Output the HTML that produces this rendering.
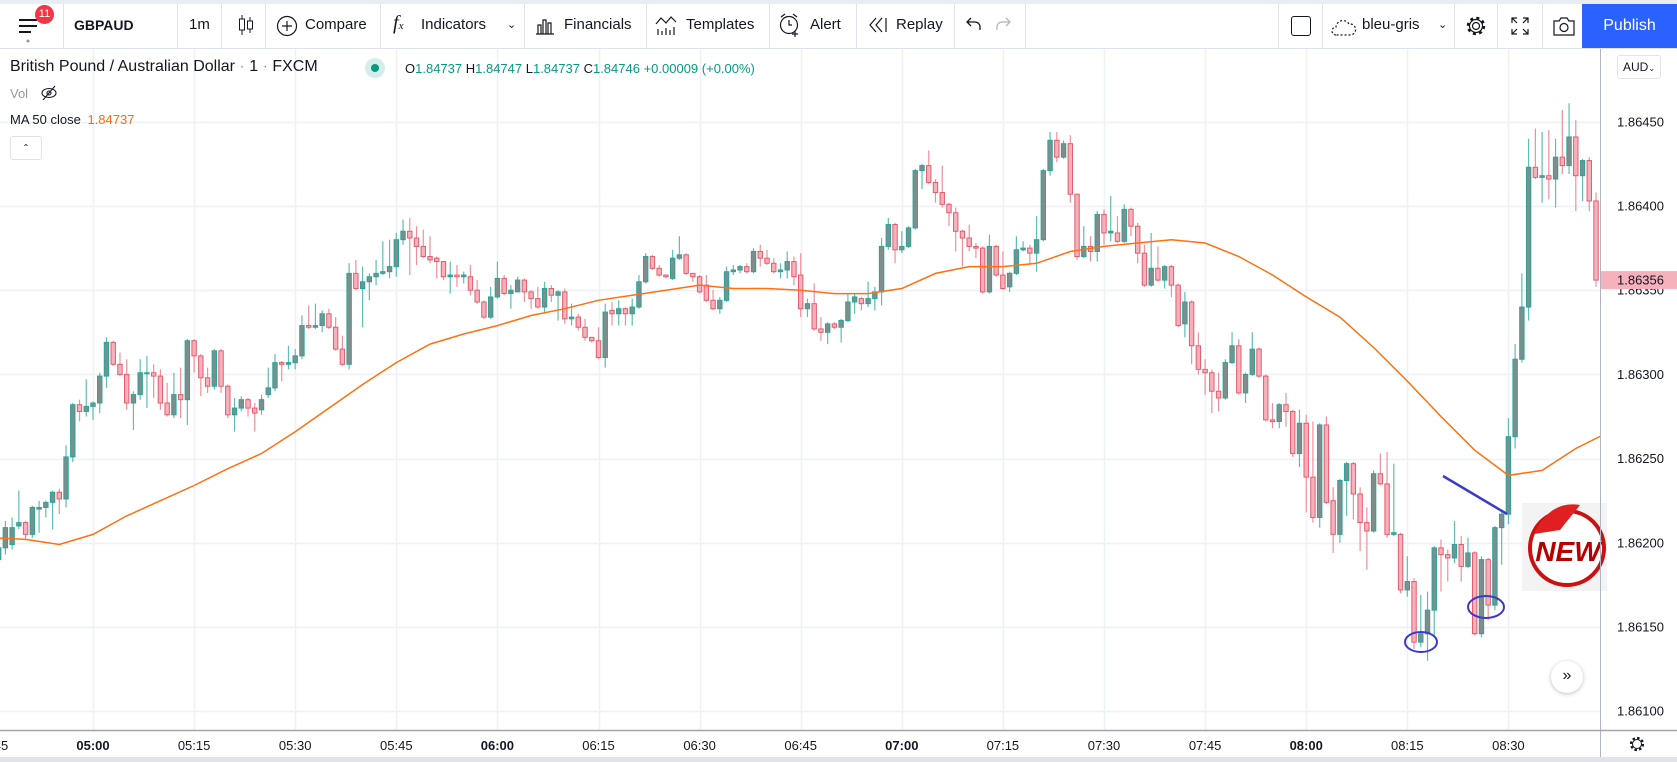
<!DOCTYPE html>
<html><head><meta charset="utf-8">
<style>
html,body{margin:0;padding:0;width:1677px;height:762px;overflow:hidden;background:#fff;font-family:"Liberation Sans",sans-serif;color:#131722}
.abs{position:absolute}
.tb{position:absolute;top:4px;left:0;width:1677px;height:44px;background:#fff;border-bottom:1px solid #e0e3eb}
.sep{position:absolute;top:4px;width:1px;height:44px;background:#e0e3eb}
.tt{position:absolute;top:16px;font-size:15px;line-height:18px;color:#131722;white-space:nowrap}
</style></head><body>
<div class="abs" style="left:0;top:0;width:1677px;height:4px;background:#e9ecf2"></div>
<div class="tb"></div>
<svg class="abs" style="left:19px;top:17px" width="22" height="28"><rect x="0" y="2" width="18" height="2" fill="#131722"/><rect x="0" y="8" width="18" height="2" fill="#131722"/><rect x="0" y="14" width="12" height="2" fill="#131722"/><circle cx="9" cy="24" r="1.5" fill="#9598a1"/></svg>
<div class="abs" style="left:35px;top:5px;width:19px;height:19px;border-radius:50%;background:#f23645;color:#fff;font-size:11px;line-height:19px;text-align:center">11</div>
<div class="sep" style="left:63px"></div>
<div class="tt" style="left:74px;font-weight:bold;font-size:14px">GBPAUD</div>
<div class="sep" style="left:177px"></div>
<div class="tt" style="left:189px">1m</div>
<div class="sep" style="left:221px"></div>
<svg class="abs" style="left:238px;top:14px" width="16" height="22"><line x1="4" y1="1" x2="4" y2="21" stroke="#131722"/><rect x="1.5" y="5" width="5" height="11" fill="#fff" stroke="#131722"/><line x1="12" y1="3" x2="12" y2="19" stroke="#131722"/><rect x="9.5" y="7" width="5" height="8" fill="#fff" stroke="#131722"/></svg>
<div class="sep" style="left:265px"></div>
<svg class="abs" style="left:276px;top:15px" width="22" height="22"><circle cx="11" cy="11" r="9.5" fill="none" stroke="#131722" stroke-width="1.2"/><path d="M11 6v10M6 11h10" stroke="#131722" stroke-width="1.2"/></svg>
<div class="tt" style="left:305px">Compare</div>
<div class="sep" style="left:380px"></div>
<div class="abs" style="left:393px;top:12px;font-family:'Liberation Serif',serif;font-style:italic;font-size:20px">f<span style="font-size:11px">x</span></div>
<div class="tt" style="left:421px">Indicators</div>
<div class="tt" style="left:507px;font-size:11px">&#8964;</div>
<div class="sep" style="left:524px"></div>
<svg class="abs" style="left:535px;top:15px" width="20" height="20"><path d="M1 19h18M3 19V10h3v9M8 19V5h3v14M13 19V8h3v11" fill="none" stroke="#131722" stroke-width="1.2"/></svg>
<div class="tt" style="left:564px">Financials</div>
<div class="sep" style="left:646px"></div>
<svg class="abs" style="left:655px;top:14px" width="22" height="22"><path d="M1 10l5-6 5 5 5-6 5 5" fill="none" stroke="#131722" stroke-width="1.2"/><path d="M3 21v-6M7 21v-4M11 21v-7M15 21v-5M19 21v-8" stroke="#131722" stroke-width="1.2"/></svg>
<div class="tt" style="left:686px">Templates</div>
<div class="sep" style="left:769px"></div>
<svg class="abs" style="left:778px;top:12px" width="24" height="26"><circle cx="11" cy="13" r="8.5" fill="none" stroke="#131722" stroke-width="1.2"/><path d="M11 8v5h3M3 5l4-3M19 5l-4-3M17 19v6M14 22h6" fill="none" stroke="#131722" stroke-width="1.2"/></svg>
<div class="tt" style="left:810px">Alert</div>
<div class="sep" style="left:856px"></div>
<svg class="abs" style="left:868px;top:17px" width="20" height="16"><path d="M8 1L2 8l6 7M14 1L8 8l6 7M18 1v14" fill="none" stroke="#131722" stroke-width="1.2"/></svg>
<div class="tt" style="left:896px">Replay</div>
<div class="sep" style="left:954px"></div>
<svg class="abs" style="left:966px;top:17px" width="16" height="14"><path d="M5 1L1 5l4 4M1 5h8a5 5 0 0 1 5 5v3" fill="none" stroke="#131722" stroke-width="1.3"/></svg>
<svg class="abs" style="left:995px;top:17px" width="16" height="14"><path d="M11 1l4 4-4 4M15 5H7a5 5 0 0 0-5 5v3" fill="none" stroke="#b2b5be" stroke-width="1.3"/></svg>
<div class="sep" style="left:1025px"></div>
<div class="sep" style="left:1278px"></div>
<div class="abs" style="left:1291px;top:16px;width:18px;height:18px;border:1.5px solid #131722;border-radius:3px"></div>
<div class="sep" style="left:1322px"></div>
<svg class="abs" style="left:1331px;top:15px" width="26" height="22"><path d="M5 20a4 4 0 0 1 0-8 7 7 0 0 1 13-3 5 5 0 0 1 2 11z" fill="none" stroke="#131722" stroke-width="1.2" stroke-dasharray="2 2"/></svg>
<div class="tt" style="left:1362px">bleu-gris</div>
<div class="tt" style="left:1438px;font-size:11px">&#8964;</div>
<div class="sep" style="left:1454px"></div>
<svg class="abs" style="left:1465px;top:15px" width="22" height="22"><circle cx="11" cy="11" r="3.5" fill="none" stroke="#131722" stroke-width="1.2"/><circle cx="11" cy="11" r="8" fill="none" stroke="#131722" stroke-width="2.5" stroke-dasharray="3 3.3"/><circle cx="11" cy="11" r="6.5" fill="none" stroke="#131722" stroke-width="1.2"/></svg>
<div class="sep" style="left:1497px"></div>
<svg class="abs" style="left:1511px;top:17px" width="18" height="18"><path d="M1 6V1h5M12 1h5v5M17 12v5h-5M6 17H1v-5M1 1l5 5M17 1l-5 5M17 17l-5-5M1 17l5-5" fill="none" stroke="#131722" stroke-width="1.2"/></svg>
<div class="sep" style="left:1542px"></div>
<svg class="abs" style="left:1552px;top:15px" width="24" height="22"><path d="M2 6h5l2-3h6l2 3h5v14H2z" fill="none" stroke="#131722" stroke-width="1.2"/><circle cx="12" cy="12.5" r="4" fill="none" stroke="#131722" stroke-width="1.2"/></svg>
<div class="abs" style="left:1582px;top:4px;width:95px;height:44px;background:#2962ff;color:#fff;font-size:16px;line-height:44px;text-align:center">Publish</div>

<svg id="chart" class="abs" style="left:0;top:0" width="1677" height="762"></svg>

<div class="abs" style="left:10px;top:58px;font-size:16px;white-space:nowrap">British Pound / Australian Dollar <span style="color:#9598a1">·</span> 1 <span style="color:#9598a1">·</span> FXCM</div>
<div class="abs" style="left:365px;top:58px;width:20px;height:20px;border-radius:50%;background:#d5eeea"><div style="margin:6px;width:8px;height:8px;border-radius:50%;background:#089981"></div></div>
<div class="abs" style="left:405px;top:61px;font-size:13px;white-space:nowrap;color:#089981"><span style="color:#131722">O</span>1.84737 <span style="color:#131722">H</span>1.84747 <span style="color:#131722">L</span>1.84737 <span style="color:#131722">C</span>1.84746 +0.00009 (+0.00%)</div>
<div class="abs" style="left:10px;top:86px;font-size:13px;color:#9598a1">Vol</div>
<svg class="abs" style="left:40px;top:84px" width="18" height="18"><ellipse cx="9" cy="9" rx="7" ry="4.5" fill="none" stroke="#131722" stroke-width="1.1"/><circle cx="9" cy="9" r="2" fill="none" stroke="#131722" stroke-width="1.1"/><path d="M3 16L15 2" stroke="#131722" stroke-width="1.1"/></svg>
<div class="abs" style="left:10px;top:112px;font-size:13px;white-space:nowrap;color:#131722">MA 50 close <span style="color:#ff6d00;margin-left:3px">1.84737</span></div>
<div class="abs" style="left:10px;top:136px;width:30px;height:22px;border:1px solid #e0e3eb;border-radius:3px;font-size:12px;line-height:24px;text-align:center">&#710;</div>
<div class="abs" style="left:1617px;top:55px;width:42px;height:22px;border:1px solid #e0e3eb;border-radius:3px;font-size:12px;line-height:22px;text-align:center">AUD<span style="font-size:8px">&#8964;</span></div>
<div class="abs" style="left:1551px;top:661px;width:32px;height:32px;border-radius:50%;background:#fff;box-shadow:0 1px 4px rgba(0,0,0,0.25);font-size:16px;line-height:30px;text-align:center;color:#131722">&#187;</div>

<script>
// Candles: prices = 1.86 + pts/100000, one per minute starting 04:46
const startMinute = 286;
const openPts = [190,197,199,210,212,205,220,221,224,230,226,251,282,278,281,283,299,319,306,300,283,288,301,301,299,283,276,288,285,320,311,298,293,314,293,276,280,285,280,279,288,292,307,306,307,311,329,328,329,336,328,315,306,360,351,355,358,360,361,364,380,385,381,376,370,369,367,358,359,358,358,350,343,334,346,357,348,349,356,349,345,340,351,347,349,333,334,328,322,320,310,338,336,339,336,340,355,370,363,359,357,369,371,360,358,353,344,339,344,361,362,364,361,373,369,366,361,362,367,359,339,342,327,325,330,328,332,343,345,342,345,349,376,389,374,376,387,421,424,414,408,401,396,385,381,376,375,349,376,359,352,360,374,375,372,380,421,439,429,437,407,370,376,373,395,384,384,379,398,388,372,353,363,356,364,353,330,343,317,303,301,290,286,307,317,289,300,315,299,273,272,282,278,253,271,239,215,270,225,205,237,247,229,212,207,241,235,205,205,172,177,141,146,160,197,193,191,199,186,194,146,190,163,209,217,263,309,340,423,417,418,416,429,424,441,418,427,403];
const highPts = [199,213,215,231,213,222,225,225,231,232,258,283,285,297,284,301,322,320,313,309,290,309,311,306,303,295,301,304,321,321,312,304,315,315,294,286,287,286,283,288,304,312,308,317,315,335,341,342,338,339,334,323,366,368,364,360,368,379,380,384,392,393,388,386,382,370,367,367,365,361,365,356,344,352,367,359,353,358,357,350,352,355,353,350,351,342,336,333,322,328,342,343,344,340,345,359,372,371,365,359,374,382,372,360,359,359,350,346,364,365,365,366,375,377,374,369,366,373,370,372,345,354,334,331,331,333,348,348,346,355,352,381,393,390,385,388,422,425,433,416,424,402,399,386,389,378,376,383,377,373,361,382,379,377,394,422,444,444,439,442,407,388,382,397,398,406,394,401,399,390,377,384,376,365,365,354,349,344,325,309,303,301,309,325,321,301,325,316,300,283,283,289,279,279,276,272,271,275,233,238,248,248,233,221,243,253,254,247,206,192,179,169,171,198,202,196,213,204,203,195,192,191,210,218,274,318,360,440,446,444,445,440,457,461,451,428,429,408];
const lowPts = [181,193,196,208,202,203,206,215,208,217,221,248,272,275,273,277,292,305,299,279,267,285,280,286,279,275,274,274,270,301,287,289,291,289,274,266,278,275,266,276,286,290,296,303,303,309,327,327,325,327,314,305,303,350,328,344,353,359,357,358,377,359,365,369,366,357,356,348,352,354,347,342,333,333,345,347,339,349,343,339,339,336,343,332,330,329,326,320,319,309,304,329,329,329,329,339,354,362,358,357,356,368,359,355,348,343,338,336,343,359,360,360,360,364,365,360,357,357,353,334,334,326,320,318,327,319,331,336,338,340,338,341,374,366,372,375,386,410,413,402,399,388,373,364,373,369,348,348,358,350,349,359,373,365,361,379,418,426,428,402,368,369,367,367,377,379,378,378,382,366,352,352,355,351,346,328,322,306,300,288,277,278,285,306,288,283,299,298,272,268,268,269,251,245,218,212,209,223,194,200,216,214,195,184,206,234,203,204,170,168,137,138,130,145,171,177,188,177,185,145,144,154,160,187,211,256,307,332,416,402,404,399,419,419,397,403,397,352];
const closePts = [197,209,209,212,205,221,221,224,230,226,251,282,278,281,283,299,319,306,300,283,288,301,301,299,283,276,288,285,320,311,298,293,314,293,276,280,285,280,277,285,292,307,306,307,311,329,328,329,336,328,315,306,360,351,355,358,360,361,364,380,385,381,376,370,368,367,358,359,358,359,350,343,334,346,357,348,350,356,349,345,340,351,347,349,333,334,328,322,320,310,337,336,339,336,340,355,370,363,359,358,369,371,360,358,349,344,339,344,361,362,364,361,373,369,366,361,362,367,358,339,342,327,325,330,328,332,343,346,342,345,349,376,389,374,376,387,421,424,414,408,401,396,385,381,376,375,349,376,359,351,360,374,375,372,380,421,439,429,437,407,370,376,373,395,384,385,379,398,388,372,353,363,356,364,353,329,343,317,303,301,290,286,307,317,289,300,315,299,273,272,282,278,253,271,239,215,270,224,205,237,247,229,212,207,241,235,205,206,172,177,141,146,160,197,193,191,199,186,194,146,190,163,209,217,263,309,340,423,417,418,416,429,424,441,418,427,403,356];
// MA 50 (close) values read every 5 minutes starting at minute maStart
const maStart = 285;
const maPts = [203,202,199,205,216,225,234,244,253,266,280,294,307,318,324,329,335,339,344,347,350,353,351,351,350,348,348,351,360,364,364,366,373,376,378,380,378,370,359,346,334,316,296,275,255,240,243,256,266];
const priceTicks = [1.8645,1.864,1.8635,1.863,1.8625,1.862,1.8615,1.861];
const timeTicks = ["04:45","05:00","05:15","05:30","05:45","06:00","06:15","06:30","06:45","07:00","07:15","07:30","07:45","08:00","08:15","08:30"];
const timeTickMinutes = [285,300,315,330,345,360,375,390,405,420,435,450,465,480,495,510];
const lastPrice = 1.86356;

const NS = "http://www.w3.org/2000/svg";
const svg = document.getElementById('chart');
const PLOT_R = 1600, PLOT_T = 49, PLOT_B = 730;
function xOf(min){ return 93 + (min - 300) * 6.74; }
function yOf(price){ return 206 - (price - 1.864) / 0.0005 * 84.2; }
function pts2p(v){ return 1.86 + v / 100000; }
function mk(tag, attrs, parent){ const e = document.createElementNS(NS, tag); for (const k in attrs) e.setAttribute(k, attrs[k]); (parent||svg).appendChild(e); return e; }

const defs = mk('defs', {});
const clip = mk('clipPath', {id:'plotclip'}, defs);
mk('rect', {x:0, y:PLOT_T, width:PLOT_R, height:PLOT_B-PLOT_T}, clip);

const grid = mk('g', {});


timeTickMinutes.forEach(m => {
  const x = Math.round(xOf(m)) + 0.5;
  const l = mk('line', {x1:x, x2:x, y1:PLOT_T, y2:PLOT_B, stroke:'#eef1f6', 'stroke-width':1.5}, grid);
  
  
});
priceTicks.forEach(p => {
  const y = Math.round(yOf(p)) + 0.5;
  const l = mk('line', {x1:0, x2:PLOT_R, y1:y, y2:y, stroke:'#eef1f6', 'stroke-width':1.5}, grid);
  
  
});

const cg = mk('g', {'clip-path':'url(#plotclip)'});


for (let k = 0; k < openPts.length; k++) {
  const o = pts2p(openPts[k]), h = pts2p(highPts[k]), l = pts2p(lowPts[k]), c = pts2p(closePts[k]);
  const up = c >= o;
  const x = xOf(startMinute + k);
  const g = mk('g', {}, cg);
  
  
  mk('line', {x1:x, x2:x, y1:yOf(h), y2:yOf(l), stroke: up ? '#5fbdb1' : '#ee9099', 'stroke-width':1.2}, g);
  const top = yOf(Math.max(o, c)), bot = yOf(Math.min(o, c));
  mk('rect', {x:x-2.2, y:top, width:4.4, height:Math.max(1, bot-top), fill: up ? '#7f8e8c' : '#f7b1bd', stroke: up ? '#26a69a' : '#e35d6a', 'stroke-width':1}, g);
}

let d = '';
maPts.forEach((v, k) => { d += (k ? 'L' : 'M') + xOf(maStart + k*5).toFixed(1) + ' ' + yOf(pts2p(v)).toFixed(1); });
const ma = mk('path', {d:d, fill:'none', stroke:'#ff7010', 'stroke-width':1.5, 'clip-path':'url(#plotclip)'});



// annotations
const tl = mk('line', {x1:1443, y1:476, x2:1507, y2:514, stroke:'#3a3acc', 'stroke-width':2.5});


const e1 = mk('ellipse', {cx:1421, cy:642, rx:16, ry:10, fill:'none', stroke:'#3a3acc', 'stroke-width':2});


const e2 = mk('ellipse', {cx:1486, cy:607, rx:18, ry:11, fill:'none', stroke:'#3a3acc', 'stroke-width':2});



const badge = mk('g', {});


mk('rect', {x:1522, y:503, width:85, height:88, fill:'#f3f3f3'}, badge);
mk('circle', {cx:1567, cy:548, r:37, fill:'#fff', stroke:'#cc1111', 'stroke-width':4}, badge);
mk('path', {d:'M1534 534 Q1550 500 1580 505 L1560 530 Z', fill:'#e02020'}, badge);
const nt = mk('text', {x:1568, y:561, 'font-size':28, 'font-weight':'bold', 'font-style':'italic', fill:'#b80000', 'text-anchor':'middle', 'font-family':'Liberation Sans, sans-serif'}, badge);
nt.textContent = 'NEW';

// price axis
const ax = mk('line', {x1:1600.5, x2:1600.5, y1:PLOT_T, y2:762, stroke:'#b2b5be', 'stroke-width':1});


priceTicks.forEach(p => {
  const t = mk('text', {x:1617, y:yOf(p)+4.5, 'font-size':13, fill:'#131722', 'font-family':'Liberation Sans, sans-serif'});
  
  
  t.textContent = p.toFixed(5);
});
const ly = yOf(lastPrice);
const lb = mk('rect', {x:1601, y:ly-9, width:76, height:18, fill:'#f7b1bd'});


const lt = mk('text', {x:1617, y:ly+4.5, 'font-size':13, fill:'#131722', 'font-family':'Liberation Sans, sans-serif'});


lt.textContent = lastPrice.toFixed(5);

// time axis
const tax = mk('line', {x1:0, x2:1677, y1:730.5, y2:730.5, stroke:'#a3a6af', 'stroke-width':1.5});


timeTicks.forEach((lab, k) => {
  const t = mk('text', {x:xOf(timeTickMinutes[k]), y:750, 'font-size':13, fill:'#131722', 'text-anchor':'middle', 'font-weight': lab.endsWith(':00') ? 'bold' : 'normal', 'font-family':'Liberation Sans, sans-serif'});
  
  
  t.textContent = lab;
});
const bb = mk('rect', {x:0, y:757, width:1677, height:5, fill:'#e0e3eb'});


const gear = mk('g', {});


mk('circle', {cx:1637, cy:744, r:6, fill:'none', stroke:'#131722', 'stroke-width':2.2, 'stroke-dasharray':'2.5 2.2'}, gear);
mk('circle', {cx:1637, cy:744, r:4.5, fill:'#fff', stroke:'#131722', 'stroke-width':1}, gear);
</script>
</body></html>
